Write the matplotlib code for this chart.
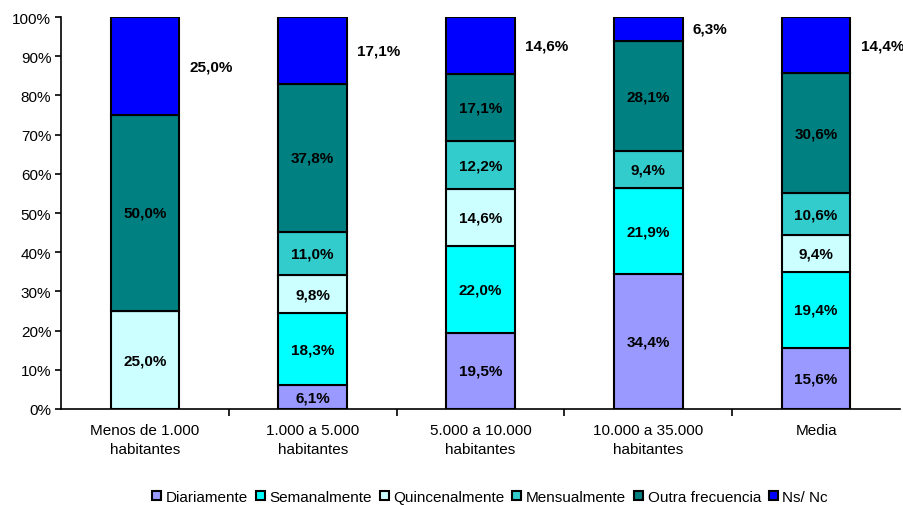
import matplotlib.pyplot as plt
import numpy as np

plt.rcParams['font.family'] = ['Liberation Sans', 'DejaVu Sans']

categories = ["Menos de 1.000\nhabitantes", "1.000 a 5.000\nhabitantes",
              "5.000 a 10.000\nhabitantes", "10.000 a 35.000\nhabitantes", "Media"]
series_names = ["Diariamente", "Semanalmente", "Quincenalmente",
                "Mensualmente", "Outra frecuencia", "Ns/ Nc"]
diariamente = [0, 6.1, 19.5, 34.4, 15.6]
semanalmente = [0, 18.3, 22.0, 21.9, 19.4]
quincenalmente = [25.0, 9.8, 14.6, 0, 9.4]
mensualmente = [0, 11.0, 12.2, 9.4, 10.6]
outra = [50.0, 37.8, 17.1, 28.1, 30.6]
nsnc = [25.0, 17.1, 14.6, 6.3, 14.4]

colors = ["#9999FF", "#00FFFF", "#CCFFFF", "#33CCCC", "#008080", "#0000FF"]
series = [diariamente, semanalmente, quincenalmente, mensualmente, outra, nsnc]

fig = plt.figure(figsize=(9.04, 5.06), dpi=100)
ax = fig.add_axes([61 / 904, 96 / 506, 839 / 904, 392 / 506])

x = np.arange(len(categories))
width = 0.41
bottom = np.zeros(len(categories))
for i, (name, vals, col) in enumerate(zip(series_names, series, colors)):
    vals = np.array(vals, dtype=float)
    ax.bar(x, vals, width, bottom=bottom, color=col, edgecolor='black',
           linewidth=1.5, label=name)
    for j, v in enumerate(vals):
        if v <= 0:
            continue
        txt = f"{v:.1f}%".replace('.', ',')
        yc = bottom[j] + v / 2
        if i == len(series) - 1:
            ax.text(x[j] + width / 2 + 0.06, yc, txt, ha='left', va='center',
                    fontsize=11, fontweight='bold')
        else:
            ax.text(x[j], yc, txt, ha='center', va='center',
                    fontsize=11, fontweight='bold')
    bottom += vals

ax.set_xlim(-0.5, len(categories) - 0.5)
ax.set_ylim(0, 100)
ax.set_yticks(np.arange(0, 101, 10))
ax.set_yticklabels([f"{t}%" for t in range(0, 101, 10)], fontsize=11)
ax.set_xticks(x)
ax.set_xticklabels(categories, fontsize=11, linespacing=1.45)
ax.tick_params(axis='x', length=0, pad=10)
ax.set_xticks(np.arange(0.5, len(categories) - 0.5, 1), minor=True)
ax.tick_params(axis='x', which='minor', length=5, width=1.2)
ax.tick_params(axis='y', length=4, width=1.2, pad=3)
for s in ['top', 'right']:
    ax.spines[s].set_visible(False)
for s in ['left', 'bottom']:
    ax.spines[s].set_linewidth(1.2)

fig.legend(loc='center', bbox_to_anchor=(490 / 904, 1 - 498 / 506), ncol=6,
           frameon=False, fontsize=11, handlelength=0.6, handleheight=0.6,
           handletextpad=0.3, columnspacing=0.5)

fig.savefig("out.png", dpi=100)
